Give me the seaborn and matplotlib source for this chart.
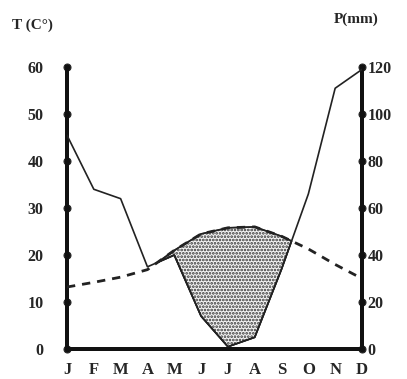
import numpy as np
import pandas as pd
import matplotlib
matplotlib.use("Agg")
import matplotlib.pyplot as plt
import seaborn as sns

months = ['J', 'F', 'M', 'A', 'M', 'J', 'J', 'A', 'S', 'O', 'N', 'D']
temp_c = [13.2, 14.2, 15.3, 16.9, 21.0, 24.5, 25.8, 26.0, 24.0, 21.3, 18.0, 15.0]
precip_mm = [91, 68, 64, 35, 40, 14, 1, 5, 34, 66, 111, 119]
t_ticks = [0, 10, 20, 30, 40, 50, 60]
p_ticks = [0, 20, 40, 60, 80, 100, 120]

sns.set_style("white")
plt.rcParams['font.family'] = ['Liberation Serif', 'DejaVu Serif']
plt.rcParams['font.weight'] = 'bold'
plt.rcParams['hatch.linewidth'] = 1.3

df = pd.DataFrame({'m': np.arange(len(months)), 'T': temp_c, 'P': precip_mm})
df['T2'] = df['T'] * 2

fig = plt.figure(figsize=(4.07, 3.79), dpi=100)
ax = fig.add_axes([0.1646, 0.079, 0.7248, 0.744])
ax2 = ax.twinx()

# saison sèche : P < 2T
ax2.fill_between(df['m'], df['P'], df['T2'], where=df['P'] < df['T2'],
                 interpolate=True, facecolor='#f4f4f4', edgecolor='#333333',
                 hatch='.....', linewidth=1.0, zorder=1)
ax2.fill_between(df['m'], df['P'], df['T2'], where=df['P'] < df['T2'],
                 interpolate=True, facecolor='none', edgecolor='#222222',
                 linewidth=1.2, zorder=2)

sns.lineplot(data=df, x='m', y='T2', ax=ax2, color='#222222', lw=2.0,
             linestyle=(0, (3, 2.5)), zorder=3)
sns.lineplot(data=df, x='m', y='P', ax=ax2, color='#222222', lw=1.2, zorder=4)

ax.set_xlim(0, 11)
ax.set_ylim(0, 60)
ax2.set_ylim(0, 120)
ax.set_yticks(t_ticks)
ax2.set_yticks(p_ticks)
ax.set_xticks(df['m'])
ax.set_xticklabels(months)
ax.set_xlabel('')
ax.set_ylabel('')
ax2.set_xlabel('')
ax2.set_ylabel('')

for a in (ax, ax2):
    a.spines['top'].set_visible(False)
    for s in ('left', 'right', 'bottom'):
        a.spines[s].set_linewidth(2.8)
        a.spines[s].set_color('#111111')

ax.tick_params(axis='y', labelsize=11.5, pad=17, length=0)
ax2.tick_params(axis='y', labelsize=11.5, pad=4, length=0)
ax.tick_params(axis='x', labelsize=12, pad=9, length=0)

# points noirs sur les axes
for t in ax.yaxis.get_major_ticks():
    t.tick1line.set_marker('o')
    t.tick1line.set_markersize(5)
    t.tick1line.set_color('#111111')
for t in ax2.yaxis.get_major_ticks():
    t.tick2line.set_marker('o')
    t.tick2line.set_markersize(5)
    t.tick2line.set_color('#111111')
for t in ax.xaxis.get_major_ticks():
    t.tick1line.set_marker('o')
    t.tick1line.set_markersize(3.5)
    t.tick1line.set_color('#111111')

fig.text(0.03, 0.925, 'T (C°)', fontsize=11, fontweight='bold')
fig.text(0.82, 0.94, 'P(mm)', fontsize=11, fontweight='bold')

fig.savefig('out.png', dpi=100)
